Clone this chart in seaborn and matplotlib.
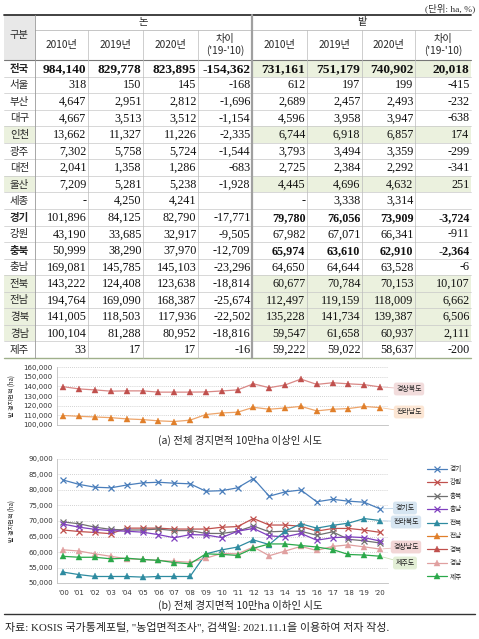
import matplotlib
matplotlib.use('Agg')
import matplotlib.pyplot as plt
from matplotlib.patches import Rectangle
from matplotlib.ticker import FuncFormatter
import seaborn as sns

W, H = 479, 639

# ---- table data (ha) ----
regions = ['전국', '서울', '부산', '대구', '인천', '광주', '대전', '울산', '세종',
           '경기', '강원', '충북', '충남', '전북', '전남', '경북', '경남', '제주']
rice_2010 = [984140, 318, 4647, 4667, 13662, 7302, 2041, 7209, None, 101896, 43190,
             50999, 169081, 143222, 194764, 141005, 100104, 33]
rice_2019 = [829778, 150, 2951, 3513, 11327, 5758, 1358, 5281, 4250, 84125, 33685,
             38290, 145785, 124408, 169090, 118503, 81288, 17]
rice_2020 = [823895, 145, 2812, 3512, 11226, 5724, 1286, 5238, 4241, 82790, 32917,
             37970, 145103, 123638, 168387, 117936, 80952, 17]
rice_diff = [-154362, -168, -1696, -1154, -2335, -1544, -683, -1928, None, -17771, -9505,
             -12709, -23296, -18814, -25674, -22502, -18816, -16]
field_2010 = [731161, 612, 2689, 4596, 6744, 3793, 2725, 4445, None, 79780, 67982,
              65974, 64650, 60677, 112497, 135228, 59547, 59222]
field_2019 = [751179, 197, 2457, 3958, 6918, 3494, 2384, 4696, 3338, 76056, 67071,
              63610, 64644, 70784, 119159, 141734, 61658, 59022]
field_2020 = [740902, 199, 2493, 3947, 6857, 3359, 2292, 4632, 3314, 73909, 66341,
              62910, 63528, 70153, 118009, 139387, 60937, 58637]
field_diff = [20018, -415, -232, -638, 174, -299, -341, 251, None, -3724, -911,
              -2364, -6, 10107, 6662, 6506, 2111, -200]
col_heads = ['2010년', '2019년', '2020년', "차이\n('19-'10)"]
green_rows = ['전국', '인천', '울산', '전북', '전남', '경북', '경남']
bold_rows = ['전국']
bold_field_rows = ['경기', '충북']

# ---- chart data (ha) ----
years = list(range(2000, 2021))
gyeongbuk = [139600, 137300, 136300, 135000, 135300, 135300, 134000, 134000, 134000, 134200,
             135228, 136300, 142600, 138600, 141400, 147500, 142000, 143700, 142600, 141734, 139387]
jeonnam = [109800, 109000, 108300, 107600, 106300, 105600, 104300, 103600, 105000, 110800,
           112497, 113200, 118300, 116300, 117600, 119300, 114600, 116300, 117000, 119159, 118009]
gyeonggi = [83200, 81800, 80900, 80700, 81600, 82300, 82500, 82200, 82000, 79600,
            79780, 80700, 83700, 78000, 79400, 80000, 76200, 77000, 76400, 76056, 73909]
gangwon = [67100, 66600, 66300, 65900, 67700, 67700, 67700, 67400, 67400, 67400,
           67982, 68200, 70800, 68700, 68700, 68300, 66700, 67600, 67600, 67071, 66341]
chungbuk = [69700, 69100, 68000, 67300, 67100, 67100, 67400, 66900, 66900, 66000,
            65974, 66700, 68400, 66500, 66700, 66700, 65400, 66500, 64100, 63610, 62910]
chungnam = [69000, 68000, 67300, 66900, 66700, 66400, 65600, 64600, 65600, 65500,
            64650, 66700, 67600, 65200, 64900, 66000, 63800, 64600, 64900, 64644, 63528]
jeonbuk = [53500, 52700, 52100, 52100, 52100, 51900, 52100, 52100, 52100, 59400,
           60677, 61600, 63900, 62400, 66700, 69100, 67700, 68600, 69300, 70784, 70153]
gyeongnam = [60700, 60300, 59400, 58600, 57800, 57600, 57300, 57000, 56700, 58000,
             59547, 59400, 61600, 58800, 60300, 61800, 60500, 61800, 62300, 61658, 60937]
jeju = [58600, 58300, 58300, 57800, 58000, 57600, 57300, 56600, 56200, 59400,
        59222, 58900, 61200, 62600, 62600, 62100, 61600, 60800, 59200, 59022, 58637]

sns.set_style('white')
plt.rcParams['font.family'] = ['DejaVu Sans', 'Noto Sans CJK KR']
SERIF = ['Liberation Serif', 'Noto Sans CJK KR']
KR = ['Noto Sans CJK KR', 'DejaVu Sans']

fig = plt.figure(figsize=(W / 100, H / 100), dpi=100)


def box(x0, y0, x1, y1):
    return [x0 / W, 1 - y1 / H, (x1 - x0) / W, (y1 - y0) / H]


# ================= table =================
tab = fig.add_axes([0, 0, 1, 1])
tab.set_xlim(0, W)
tab.set_ylim(H, 0)
tab.axis('off')

edges = [4, 35, 88, 143, 198, 252, 307, 362, 415, 471]
top, h1, h2 = 15, 30, 60
rh = 16.55
bottom = h2 + len(regions) * rh
green = '#ebf1de'

tab.text(475, 8, '(단위: ha, %)', ha='right', va='center', fontsize=6.8, family=SERIF, color='#333')

# header
tab.add_patch(Rectangle((edges[0], top), edges[1] - edges[0], h2 - top, fc='#e8e8e8', lw=0))
tab.text((edges[0] + edges[1]) / 2, 35, '구분', ha='center', va='center', fontsize=7.4, family=KR)
tab.text((edges[1] + edges[5]) / 2, 22.5, '논', ha='center', va='center', fontsize=7.4, family=KR)
tab.text((edges[5] + edges[9]) / 2, 22.5, '밭', ha='center', va='center', fontsize=7.4, family=KR)
for k in range(8):
    cx = (edges[k + 1] + edges[k + 2]) / 2
    tab.text(cx, 45, col_heads[k % 4], ha='center', va='center', fontsize=7.3,
             family=KR, linespacing=1.2)

# rows
cols = [rice_2010, rice_2019, rice_2020, rice_diff, field_2010, field_2019, field_2020, field_diff]
for i, name in enumerate(regions):
    y0 = h2 + i * rh
    yc = y0 + rh / 2 + 0.5
    if name in green_rows:
        tab.add_patch(Rectangle((edges[5], y0), edges[9] - edges[5], rh, fc=green, lw=0))
        if name != '전국':
            tab.add_patch(Rectangle((edges[0], y0), edges[1] - edges[0], rh, fc=green, lw=0))
    bold_name = name in bold_rows or name in bold_field_rows
    tab.text((edges[0] + edges[1]) / 2, yc, name, ha='center', va='center', fontsize=7.5,
             family=KR, fontweight='bold' if bold_name else 'normal')
    for k, col in enumerate(cols):
        v = col[i]
        if v is None:
            s = '' if k % 4 == 3 else '-'
        else:
            s = f'{v:,}'
        bold = name in bold_rows or (name in bold_field_rows and k >= 4)
        tab.text(edges[k + 2] - 1.5, yc, s, ha='right', va='center',
                 fontsize=9.6 if name == '전국' else 8.7, family=SERIF,
                 fontweight='bold' if bold else 'normal', color='#111')
    if i > 0:
        tab.plot([edges[0], edges[9]], [y0, y0], color='#c8c8c8', lw=0.5)

# grid lines of the table
tab.plot([edges[0], edges[9]], [top, top], color='#333', lw=1.3)
tab.plot([edges[1], edges[9]], [h1, h1], color='#bbb', lw=0.6)
tab.plot([edges[0], edges[9]], [h2, h2], color='#777', lw=0.8)
tab.plot([edges[0], edges[9]], [bottom, bottom], color='#9fb08a', lw=1.0)
for k, x in enumerate(edges[1:9]):
    if x == edges[5]:
        tab.plot([x, x], [top, bottom], color='#a0a0a0', lw=1.6)
    elif k == 0:
        tab.plot([x, x], [top, bottom], color='#999', lw=0.6)
    else:
        tab.plot([x, x], [h1, bottom], color='#bbb', lw=0.5)

# captions and source
tab.text(240, 440, '(a) 전체 경지면적 10만ha 이상인 시도', ha='center', va='center',
         fontsize=7.5, family=KR)
tab.text(240, 605, '(b) 전체 경지면적 10만ha 이하인 시도', ha='center', va='center',
         fontsize=7.5, family=KR)
tab.plot([4, 475], [614, 614], color='#333', lw=1.0)
tab.text(5, 627, '자료: KOSIS 국가통계포털, "농업면적조사", 검색일: 2021.11.1을 이용하여 저자 작성.',
         ha='left', va='center', fontsize=7.9, family=SERIF, color='#222')

fmt = FuncFormatter(lambda v, p: f'{int(v):,}')


def style_axes(ax, lo, hi, step):
    ax.set_xlim(1999.6, 2020.5)
    ax.set_ylim(lo, hi)
    ax.set_yticks(range(lo, hi + 1, step))
    ax.yaxis.set_major_formatter(fmt)
    ax.yaxis.grid(True, linestyle=(0, (1, 1.5)), color='#c4c4c4', lw=0.6)
    ax.xaxis.grid(False)
    for sp in ['top', 'right']:
        ax.spines[sp].set_visible(False)
    ax.spines['left'].set_color('#bfbfbf')
    ax.spines['bottom'].set_color('#bfbfbf')
    ax.spines['left'].set_linewidth(0.6)
    ax.spines['bottom'].set_linewidth(0.6)
    ax.tick_params(axis='y', length=0, labelsize=5, pad=3, labelcolor='#333')
    ax.set_ylabel('밭 경지면적 (ha)', fontsize=4.4, family=KR)
    ax.yaxis.set_label_coords(-0.125, 0.5)
    ax.set_xlabel('')


def draw(ax, vals, line_c, mark_c, marker, label=None):
    ms = 4.2 if marker == '^' else 3.8
    sns.lineplot(x=years, y=vals, ax=ax, color=line_c, linewidth=0.9, marker=marker,
                 markersize=ms, markerfacecolor=mark_c, markeredgecolor=mark_c,
                 markeredgewidth=0.9 if marker == 'x' else 0.3, label=label, legend=False)


def side_label(ax, text, yval, x, y, fc, lc):
    ax.annotate(text, xy=(2020, yval), xytext=(x, H - y), textcoords='figure pixels',
                ha='center', va='center', fontsize=5, family=KR, color='#222',
                bbox=dict(boxstyle='round,pad=0.35', fc=fc, ec='none'),
                arrowprops=dict(arrowstyle='-', color=lc, lw=0.6, shrinkA=0, shrinkB=2),
                annotation_clip=False)


# ================= chart (a) =================
ax_a = fig.add_axes(box(57, 367, 388, 425))
draw(ax_a, gyeongbuk, '#d98886', '#c0504d', '^')
draw(ax_a, jeonnam, '#eda56b', '#e07f2a', '^')
style_axes(ax_a, 100000, 160000, 10000)
ax_a.set_xticks([])
side_label(ax_a, '경상북도', gyeongbuk[-1], 409, 389, '#f2dcdc', '#e8bcbc')
side_label(ax_a, '전라남도', jeonnam[-1], 409, 412, '#fce6d4', '#f3c8a4')

# ================= chart (b) =================
ax_b = fig.add_axes(box(57, 459, 388, 583))
draw(ax_b, gyeonggi, '#4a7ebb', '#4a7ebb', 'x', '경기')
draw(ax_b, gangwon, '#c0504d', '#c0504d', 'x', '강원')
draw(ax_b, chungbuk, '#707070', '#707070', 'x', '충북')
draw(ax_b, chungnam, '#7f3fbf', '#7f3fbf', 'x', '충남')
draw(ax_b, jeonbuk, '#2e8ba0', '#2e8ba0', '^', '전북')
draw(ax_b, jeonnam, '#e07f2a', '#e07f2a', '^', '전남')
draw(ax_b, gyeongbuk, '#c0504d', '#c0504d', '^', '경북')
draw(ax_b, gyeongnam, '#e0a0a0', '#e0a0a0', '^', '경남')
draw(ax_b, jeju, '#2aa84a', '#2aa84a', '^', '제주')
style_axes(ax_b, 50000, 90000, 5000)
ax_b.set_xticks(years)
ax_b.set_xticklabels([f"'{y % 100:02d}" for y in years])
ax_b.tick_params(axis='x', length=2, width=0.5, color='#bfbfbf', labelsize=5, pad=3,
                 labelcolor='#333')

side_label(ax_b, '경기도', gyeonggi[-1], 405, 508, '#d6e5f1', '#b9d2e6')
side_label(ax_b, '전라북도', jeonbuk[-1], 406, 522, '#d6e5f1', '#b9d2e6')
side_label(ax_b, '경상남도', gyeongnam[-1], 406, 547, '#f2d6d6', '#e8bcbc')
side_label(ax_b, '제주도', jeju[-1], 405, 563, '#e3efd6', '#c8dfb4')

handles, labels = ax_b.get_legend_handles_labels()
leg = ax_b.legend(handles, labels, loc='upper left', bbox_to_anchor=(427 / W, 1 - 465 / H),
                  bbox_transform=fig.transFigure, frameon=False, handlelength=3.0,
                  handletextpad=0.35, labelspacing=0.82, borderpad=0, borderaxespad=0,
                  prop={'family': KR, 'size': 4.8})

fig.savefig('out.png', dpi=100)
